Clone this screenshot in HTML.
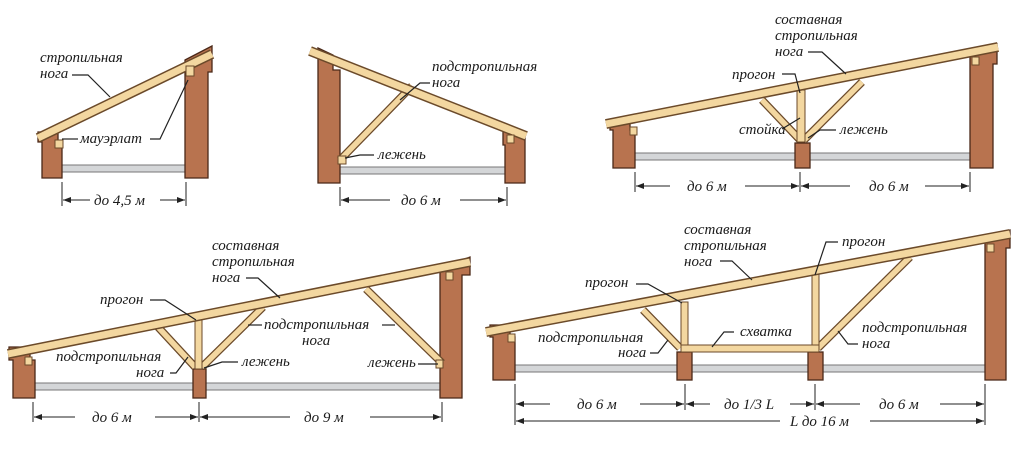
<!DOCTYPE html>
<html><head><meta charset="utf-8"><style>
html,body{margin:0;padding:0;background:#fff}
svg{display:block}
text{font-family:"Liberation Serif",serif;font-style:italic;font-size:15px;fill:#1a1a1a}
.w{fill:#b8734f;stroke:#4a2818;stroke-width:1.3}
.s{fill:#d4d6d8;stroke:#777;stroke-width:1}
.bo{stroke:#6b4a2a;stroke-linecap:butt}
.bi{stroke:#f3d7a0;stroke-linecap:butt}
.l{stroke:#222;stroke-width:1.2;fill:none}
.d{stroke:#222;stroke-width:1;fill:none}
</style></head><body>
<svg width="1024" height="450" viewBox="0 0 1024 450">
<defs>
<marker id="a" markerWidth="8" markerHeight="6" refX="8" refY="3" orient="auto"><path d="M0,0 L8,3 L0,6z" fill="#222"/></marker>
</defs>

<!-- ===== Diagram 1 ===== -->
<rect class="s" x="60" y="165" width="127" height="7"/>
<path class="w" d="M38,132 L58,132 L58,142 L62,142 L62,178 L42,178 L42,142 L38,142z"/>
<path class="w" d="M185,60 L212,46 L212,72 L208,72 L208,178 L185,178z"/>
<line class="bo" x1="38" y1="138" x2="212" y2="54" stroke-width="10"/>
<line class="bi" x1="38" y1="138" x2="212" y2="54" stroke-width="7"/>
<rect x="55" y="140" width="8" height="8" fill="#f3d7a0" stroke="#6b4a2a"/>
<rect x="186" y="66" width="8" height="10" fill="#f3d7a0" stroke="#6b4a2a"/>
<text x="40" y="62">стропильная</text>
<text x="40" y="78">нога</text>
<path class="l" d="M72,75 L88,75 L110,97"/>
<text x="80" y="143">мауэрлат</text>
<path class="l" d="M62,139 L78,139"/>
<path class="l" d="M150,139 L160,139 L188,80"/>
<path class="d" d="M62,182 V206 M186,182 V206"/>
<line class="d" x1="90" y1="200" x2="63" y2="200" marker-end="url(#a)"/>
<line class="d" x1="160" y1="200" x2="185" y2="200" marker-end="url(#a)"/>
<text x="94" y="205" font-size="16">до 4,5 м</text>

<!-- ===== Diagram 2 ===== -->
<rect class="s" x="338" y="167" width="169" height="7"/>
<path class="w" d="M318,48 L333,55 L333,70 L340,70 L340,183 L318,183z"/>
<path class="w" d="M503,130 L525,135 L525,183 L505,183 L505,145 L503,145z"/>
<line class="bo" x1="340" y1="160" x2="412" y2="86" stroke-width="8"/>
<line class="bi" x1="340" y1="160" x2="412" y2="86" stroke-width="5.5"/>
<line class="bo" x1="310" y1="51" x2="526" y2="136" stroke-width="10"/>
<line class="bi" x1="310" y1="51" x2="526" y2="136" stroke-width="7"/>
<rect x="338" y="156" width="8" height="8" fill="#f3d7a0" stroke="#6b4a2a"/>
<rect x="507" y="135" width="7" height="8" fill="#f3d7a0" stroke="#6b4a2a"/>
<text x="432" y="71">подстропильная</text>
<text x="432" y="87">нога</text>
<path class="l" d="M430,83 L420,83 L400,100"/>
<text x="378" y="159">лежень</text>
<path class="l" d="M345,158 L360,155 L374,155"/>
<path class="d" d="M340,187 V206 M507,187 V206"/>
<line class="d" x1="390" y1="200" x2="341" y2="200" marker-end="url(#a)"/>
<line class="d" x1="460" y1="200" x2="506" y2="200" marker-end="url(#a)"/>
<text x="401" y="205" font-size="16">до 6 м</text>

<!-- ===== Diagram 3 ===== -->
<rect class="s" x="633" y="153" width="340" height="7"/>
<path class="w" d="M610,120 L630,120 L630,130 L635,130 L635,168 L613,168 L613,130 L610,130z"/>
<path class="w" d="M970,52 L997,44 L997,64 L993,64 L993,168 L970,168z"/>
<rect class="w" x="795" y="143" width="15" height="25"/>
<line class="bo" x1="800" y1="140" x2="762" y2="100" stroke-width="8"/>
<line class="bi" x1="800" y1="140" x2="762" y2="100" stroke-width="5.5"/>
<line class="bo" x1="804" y1="140" x2="862" y2="82" stroke-width="8"/>
<line class="bi" x1="804" y1="140" x2="862" y2="82" stroke-width="5.5"/>
<rect x="797" y="90" width="8" height="52" fill="#f3d7a0" stroke="#6b4a2a"/>
<line class="bo" x1="606" y1="124" x2="998" y2="47" stroke-width="10"/>
<line class="bi" x1="606" y1="124" x2="998" y2="47" stroke-width="7"/>
<rect x="630" y="127" width="7" height="8" fill="#f3d7a0" stroke="#6b4a2a"/>
<rect x="972" y="57" width="7" height="8" fill="#f3d7a0" stroke="#6b4a2a"/>
<text x="775" y="24">составная</text>
<text x="775" y="40">стропильная</text>
<text x="775" y="56">нога</text>
<path class="l" d="M808,52 L822,52 L846,74"/>
<text x="732" y="79">прогон</text>
<path class="l" d="M782,74 L795,74 L800,93"/>
<text x="739" y="134">стойка</text>
<path class="l" d="M782,129 L800,118"/>
<text x="840" y="134">лежень</text>
<path class="l" d="M808,138 L820,130 L836,130"/>
<path class="d" d="M635,172 V192 M800,172 V192 M970,172 V192"/>
<line class="d" x1="670" y1="186" x2="636" y2="186" marker-end="url(#a)"/>
<line class="d" x1="745" y1="186" x2="799" y2="186" marker-end="url(#a)"/>
<line class="d" x1="850" y1="186" x2="801" y2="186" marker-end="url(#a)"/>
<line class="d" x1="925" y1="186" x2="969" y2="186" marker-end="url(#a)"/>
<text x="687" y="191" font-size="16">до 6 м</text>
<text x="869" y="191" font-size="16">до 6 м</text>

<!-- ===== Diagram 4 ===== -->
<rect class="s" x="33" y="383" width="410" height="7"/>
<path class="w" d="M9,347 L30,347 L30,360 L35,360 L35,398 L13,398 L13,360 L9,360z"/>
<path class="w" d="M440,268 L470,257 L470,275 L462,275 L462,398 L440,398z"/>
<rect class="w" x="193" y="369" width="13" height="29"/>
<line class="bo" x1="195" y1="367" x2="158" y2="327" stroke-width="8"/>
<line class="bi" x1="195" y1="367" x2="158" y2="327" stroke-width="5.5"/>
<line class="bo" x1="202" y1="367" x2="263" y2="307" stroke-width="8"/>
<line class="bi" x1="202" y1="367" x2="263" y2="307" stroke-width="5.5"/>
<line class="bo" x1="442" y1="363" x2="366" y2="289" stroke-width="8"/>
<line class="bi" x1="442" y1="363" x2="366" y2="289" stroke-width="5.5"/>
<rect x="195" y="318" width="7" height="51" fill="#f3d7a0" stroke="#6b4a2a"/>
<line class="bo" x1="8" y1="354" x2="470" y2="262" stroke-width="10"/>
<line class="bi" x1="8" y1="354" x2="470" y2="262" stroke-width="7"/>
<rect x="25" y="357" width="7" height="8" fill="#f3d7a0" stroke="#6b4a2a"/>
<rect x="436" y="360" width="7" height="8" fill="#f3d7a0" stroke="#6b4a2a"/>
<rect x="446" y="272" width="7" height="8" fill="#f3d7a0" stroke="#6b4a2a"/>
<text x="212" y="250">составная</text>
<text x="212" y="266">стропильная</text>
<text x="212" y="282">нога</text>
<path class="l" d="M246,278 L258,278 L280,298"/>
<text x="100" y="304">прогон</text>
<path class="l" d="M150,300 L165,300 L196,320"/>
<text x="264" y="329">подстропильная</text>
<text x="302" y="345">нога</text>
<path class="l" d="M262,325 L248,325"/>
<path class="l" d="M382,325 L395,325"/>
<text x="242" y="366">лежень</text>
<path class="l" d="M204,368 L222,362 L238,362"/>
<text x="368" y="367">лежень</text>
<path class="l" d="M418,364 L438,364"/>
<text x="56" y="361">подстропильная</text>
<text x="136" y="377">нога</text>
<path class="l" d="M170,373 L176,373 L188,357"/>
<path class="d" d="M33,402 V422 M199,402 V422 M442,402 V422"/>
<line class="d" x1="75" y1="417" x2="34" y2="417" marker-end="url(#a)"/>
<line class="d" x1="155" y1="417" x2="198" y2="417" marker-end="url(#a)"/>
<line class="d" x1="290" y1="417" x2="200" y2="417" marker-end="url(#a)"/>
<line class="d" x1="370" y1="417" x2="441" y2="417" marker-end="url(#a)"/>
<text x="92" y="422" font-size="16">до 6 м</text>
<text x="304" y="422" font-size="16">до 9 м</text>

<!-- ===== Diagram 5 ===== -->
<rect class="s" x="513" y="365" width="474" height="7"/>
<path class="w" d="M490,325 L510,325 L510,337 L515,337 L515,380 L493,380 L493,337 L490,337z"/>
<path class="w" d="M985,238 L1010,230 L1010,248 L1006,248 L1006,380 L985,380z"/>
<rect class="w" x="677" y="352" width="15" height="28"/>
<rect class="w" x="808" y="352" width="15" height="28"/>
<line class="bo" x1="680" y1="348" x2="643" y2="310" stroke-width="8"/>
<line class="bi" x1="680" y1="348" x2="643" y2="310" stroke-width="5.5"/>
<line class="bo" x1="818" y1="348" x2="910" y2="257" stroke-width="8"/>
<line class="bi" x1="818" y1="348" x2="910" y2="257" stroke-width="5.5"/>
<rect x="681" y="302" width="7" height="48" fill="#f3d7a0" stroke="#6b4a2a"/>
<rect x="812" y="274" width="7" height="76" fill="#f3d7a0" stroke="#6b4a2a"/>
<rect x="681" y="345" width="138" height="7" fill="#f3d7a0" stroke="#6b4a2a"/>
<line class="bo" x1="486" y1="332" x2="1010" y2="234" stroke-width="10"/>
<line class="bi" x1="486" y1="332" x2="1010" y2="234" stroke-width="7"/>
<rect x="508" y="334" width="7" height="8" fill="#f3d7a0" stroke="#6b4a2a"/>
<rect x="987" y="244" width="7" height="8" fill="#f3d7a0" stroke="#6b4a2a"/>
<text x="684" y="234">составная</text>
<text x="684" y="250">стропильная</text>
<text x="684" y="266">нога</text>
<path class="l" d="M720,261 L732,261 L752,280"/>
<text x="842" y="246">прогон</text>
<path class="l" d="M838,242 L826,242 L815,275"/>
<text x="585" y="287">прогон</text>
<path class="l" d="M636,284 L648,284 L682,303"/>
<text x="740" y="336">схватка</text>
<path class="l" d="M734,332 L724,332 L712,347"/>
<text x="538" y="342">подстропильная</text>
<text x="618" y="357">нога</text>
<path class="l" d="M650,353 L658,353 L668,340"/>
<text x="862" y="332">подстропильная</text>
<text x="862" y="348">нога</text>
<path class="l" d="M858,344 L848,344 L838,331"/>
<path class="d" d="M515,384 V425 M685,384 V410 M815,384 V410 M985,384 V425"/>
<line class="d" x1="550" y1="404" x2="516" y2="404" marker-end="url(#a)"/>
<line class="d" x1="640" y1="404" x2="684" y2="404" marker-end="url(#a)"/>
<line class="d" x1="710" y1="404" x2="686" y2="404" marker-end="url(#a)"/>
<line class="d" x1="790" y1="404" x2="814" y2="404" marker-end="url(#a)"/>
<line class="d" x1="860" y1="404" x2="816" y2="404" marker-end="url(#a)"/>
<line class="d" x1="940" y1="404" x2="984" y2="404" marker-end="url(#a)"/>
<line class="d" x1="780" y1="421" x2="516" y2="421" marker-end="url(#a)"/>
<line class="d" x1="870" y1="421" x2="984" y2="421" marker-end="url(#a)"/>
<text x="577" y="409" font-size="16">до 6 м</text>
<text x="724" y="409" font-size="16">до 1/3 L</text>
<text x="879" y="409" font-size="16">до 6 м</text>
<text x="790" y="426" font-size="16">L до 16 м</text>
</svg>
</body></html>
